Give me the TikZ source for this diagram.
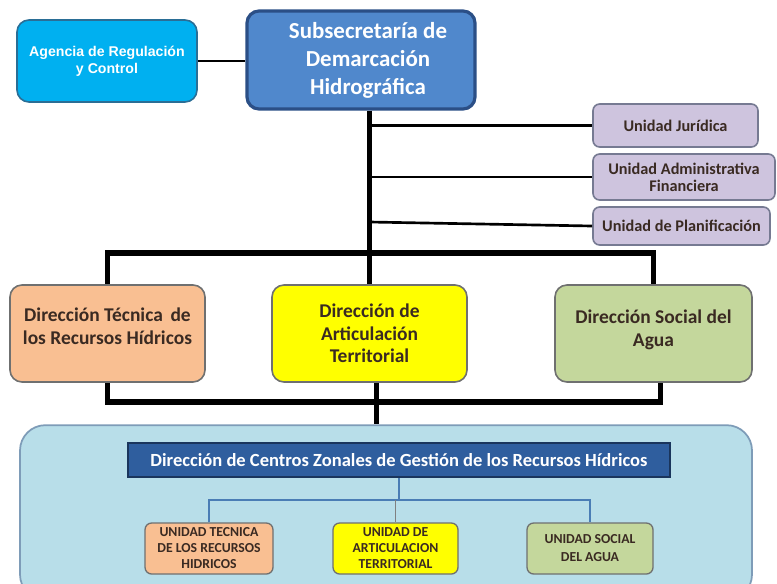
\documentclass[tikz,border=0pt]{standalone}
\usepackage{fontspec}
\setmainfont{Carlito}
\newfontfamily\arialf{Liberation Sans}
\usetikzlibrary{calc}
\definecolor{cyanbox}{HTML}{00B0F0}
\definecolor{cyanborder}{HTML}{2A6E96}
\definecolor{subfill}{HTML}{5088CC}
\definecolor{subborder}{HTML}{2B4F86}
\definecolor{lavfill}{HTML}{CEC4DE}
\definecolor{lavborder}{HTML}{767A92}
\definecolor{peach}{HTML}{F9BF92}
\definecolor{yell}{HTML}{FFFF00}
\definecolor{olive}{HTML}{C4D79C}
\definecolor{grayborder}{HTML}{6F7070}
\definecolor{bigfill}{HTML}{B8DEE9}
\definecolor{bigborder}{HTML}{7E9CB8}
\definecolor{titlefill}{HTML}{2F5E9E}
\definecolor{titleborder}{HTML}{1A355C}
\definecolor{darktext}{HTML}{3A2A22}
\definecolor{bluelink}{HTML}{4A7DB5}
\tikzset{
  box/.style={draw=grayborder, line width=1.2pt, rounded corners=9pt, inner sep=0pt, align=center},
  unitbox/.style={draw=lavborder, fill=lavfill, line width=1.2pt, rounded corners=5pt, inner sep=0pt, align=center, font=\fontsize{12.2}{13}\selectfont\bfseries, text=darktext},
  dirtext/.style={font=\fontsize{14.6}{17}\selectfont\bfseries, text=darktext, align=center},
  smallbox/.style={draw=grayborder, line width=1pt, rounded corners=5pt, inner sep=0pt, align=center, font=\fontsize{10.3}{12}\selectfont\bfseries, text=darktext},
  thick link/.style={line width=3.8pt, black},
  mid link/.style={line width=2pt, black},
  blue link/.style={line width=1.6pt, bluelink}
}
\begin{document}
\begin{tikzpicture}[x=0.75pt,y=-0.75pt]
\useasboundingbox (0,0) rectangle (777,583);
\clip (0,0) rectangle (777,583);
\fill[white] (0,0) rectangle (777,583);

% top level
\node[box, draw=cyanborder, fill=cyanbox, minimum width=135pt, minimum height=61.5pt, text=white,
      font=\arialf\fontsize{10.6}{12.5}\selectfont\bfseries] (ag) at (107,61) {Agencia de Regulación\\y Control};
\node[box, draw=subborder, fill=subfill, line width=2.4pt, minimum width=171pt, minimum height=73.5pt] (sub) at (361,60) {};
\node[text=white, align=center, font=\fontsize{17.2}{21}\selectfont\bfseries] (subtxt) at (368,60) {Subsecretaría de\\Demarcación\\Hidrográfica};

% units right
\node[unitbox, minimum width=123.75pt, minimum height=32.25pt] (uj) at (675.5,125.5) {Unidad Jurídica};
\node[unitbox, minimum width=136.5pt, minimum height=34.5pt] (ua) at (684,177) {Unidad Administrativa\\\fontsize{12.2}{13}\selectfont\bfseries Financiera};
\node[unitbox, minimum width=132.75pt, minimum height=28.5pt] (up) at (681.5,226) {Unidad de Planificación};

% directions
\node[box, fill=peach, minimum width=146.25pt, minimum height=72.75pt] (dt) at (107.5,333.5) {};
\node[dirtext] (dttxt) at (107.5,326) {Dirección Técnica \,de\\los Recursos Hídricos};
\node[box, fill=yell, minimum width=146.25pt, minimum height=72.75pt, dirtext] (da) at (369.5,333.5) {Dirección de\\Articulación\\Territorial};
\node[box, fill=olive, minimum width=147.75pt, minimum height=72.75pt] (ds) at (653.5,333.5) {};
\node[dirtext] (dstxt) at (653.5,330) {Dirección Social del\\Agua};

% bottom big box
\node[draw=bigborder, fill=bigfill, line width=1.3pt, rounded corners=19pt, minimum width=549pt, minimum height=131pt, inner sep=0pt] (big) at (386,512.5) {};
\node[draw=titleborder, fill=titlefill, line width=2pt, minimum width=406.5pt, minimum height=25.5pt, inner sep=0pt,
      text=white, font=\fontsize{13.9}{16}\selectfont\bfseries] (tit) at (399,460) {Dirección de Centros Zonales de Gestión de los Recursos Hídricos};
\node[smallbox, fill=peach, minimum width=96pt, minimum height=38.25pt] (ut) at (209,548.5) {UNIDAD TECNICA\\DE LOS RECURSOS\\HIDRICOS};
\node[smallbox, fill=yell, minimum width=93.75pt, minimum height=38.25pt] (uar) at (395.5,548.5) {UNIDAD DE\\ARTICULACION\\TERRITORIAL};
\node[smallbox, fill=olive, minimum width=94.5pt, minimum height=38.25pt, font=\fontsize{10.3}{13.5}\selectfont\bfseries] (us) at (590,548.5) {UNIDAD SOCIAL\\DEL AGUA};

% coordinates
\coordinate (tb) at (369.5,253);
\coordinate (bb) at (376.5,402);
\coordinate (sb) at (399,500);

% connectors
\draw[mid link] (ag.east) -- (sub.west |- ag.east);
\draw[thick link] (da.north |- sub.south) -- (da.north);
\draw[mid link] (da.north |- uj.west) -- (uj.west);
\draw[mid link] (da.north |- ua.west) -- (ua.west);
\draw[mid link] ($(da.north |- up.west)+(0,-4)$) -- (up.west);
\draw[thick link] (dt.north) |- (tb) -| (ds.north);
\draw[thick link] (dt.south) |- (bb) -| ($(ds.south)+(7,0)$);
\draw[thick link] (bb |- da.south) -- (bb |- big.north);
\draw[blue link] (tit.south) -- (sb);
\draw[blue link] (ut.north) |- (sb) -| (us.north);
\draw[line width=0.6pt, gray] (uar.north |- sb) -- (uar.north);
\end{tikzpicture}
\end{document}
